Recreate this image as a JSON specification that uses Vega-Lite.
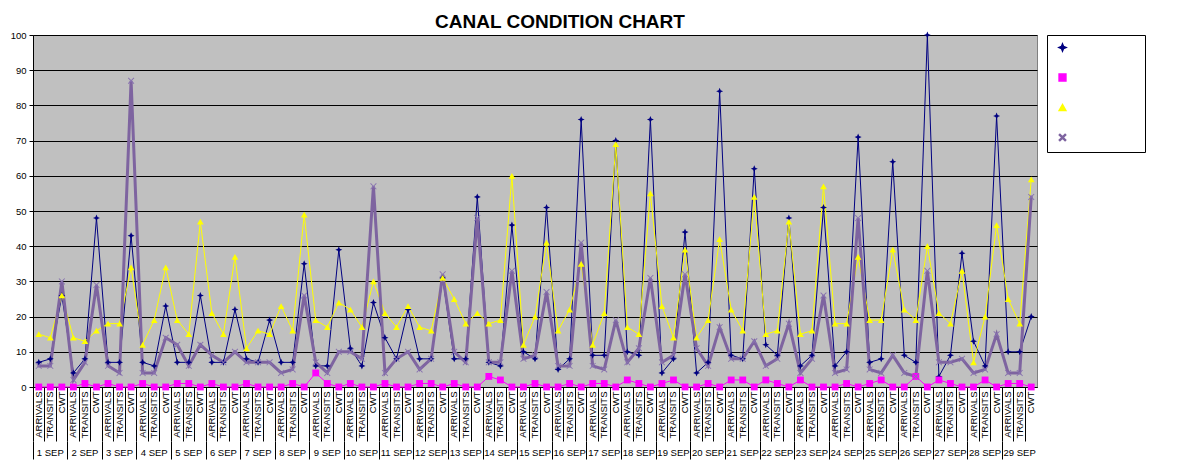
{
  "$schema": "https://vega.github.io/schema/vega-lite/v6.json",
  "width": 1004,
  "height": 352,
  "autosize": "none",
  "padding": {"left": 33, "top": 35, "right": 141, "bottom": 85},
  "background": "white",
  "title": {
    "text": "CANAL CONDITION CHART",
    "font": "Liberation Sans",
    "fontSize": 19,
    "fontWeight": "bold",
    "color": "black",
    "anchor": "middle",
    "dx": 25,
    "offset": -2
  },
  "data": {
    "values": [
      {"day": "1 SEP", "cat": "ARRIVALS", "NEOPANAMAX": 7, "PANAMAX PLUS": 0, "SUPER": 15, "REGULAR": 6},
      {"day": "1 SEP", "cat": "TRANSITS", "NEOPANAMAX": 8, "PANAMAX PLUS": 0, "SUPER": 14, "REGULAR": 6},
      {"day": "1 SEP", "cat": "CWT", "NEOPANAMAX": 26, "PANAMAX PLUS": 0, "SUPER": 26, "REGULAR": 30},
      {"day": "2 SEP", "cat": "ARRIVALS", "NEOPANAMAX": 4, "PANAMAX PLUS": 0, "SUPER": 14, "REGULAR": 2},
      {"day": "2 SEP", "cat": "TRANSITS", "NEOPANAMAX": 8, "PANAMAX PLUS": 1, "SUPER": 13, "REGULAR": 7},
      {"day": "2 SEP", "cat": "CWT", "NEOPANAMAX": 48, "PANAMAX PLUS": 0, "SUPER": 16, "REGULAR": 29},
      {"day": "3 SEP", "cat": "ARRIVALS", "NEOPANAMAX": 7, "PANAMAX PLUS": 1, "SUPER": 18, "REGULAR": 6},
      {"day": "3 SEP", "cat": "TRANSITS", "NEOPANAMAX": 7, "PANAMAX PLUS": 0, "SUPER": 18, "REGULAR": 4},
      {"day": "3 SEP", "cat": "CWT", "NEOPANAMAX": 43, "PANAMAX PLUS": 0, "SUPER": 34, "REGULAR": 87},
      {"day": "4 SEP", "cat": "ARRIVALS", "NEOPANAMAX": 7, "PANAMAX PLUS": 1, "SUPER": 12, "REGULAR": 4},
      {"day": "4 SEP", "cat": "TRANSITS", "NEOPANAMAX": 6, "PANAMAX PLUS": 0, "SUPER": 19, "REGULAR": 4},
      {"day": "4 SEP", "cat": "CWT", "NEOPANAMAX": 23, "PANAMAX PLUS": 0, "SUPER": 34, "REGULAR": 14},
      {"day": "5 SEP", "cat": "ARRIVALS", "NEOPANAMAX": 7, "PANAMAX PLUS": 1, "SUPER": 19, "REGULAR": 12},
      {"day": "5 SEP", "cat": "TRANSITS", "NEOPANAMAX": 7, "PANAMAX PLUS": 1, "SUPER": 15, "REGULAR": 6},
      {"day": "5 SEP", "cat": "CWT", "NEOPANAMAX": 26, "PANAMAX PLUS": 0, "SUPER": 47, "REGULAR": 12},
      {"day": "6 SEP", "cat": "ARRIVALS", "NEOPANAMAX": 7, "PANAMAX PLUS": 1, "SUPER": 21, "REGULAR": 9},
      {"day": "6 SEP", "cat": "TRANSITS", "NEOPANAMAX": 7, "PANAMAX PLUS": 0, "SUPER": 15, "REGULAR": 7},
      {"day": "6 SEP", "cat": "CWT", "NEOPANAMAX": 22, "PANAMAX PLUS": 0, "SUPER": 37, "REGULAR": 10},
      {"day": "7 SEP", "cat": "ARRIVALS", "NEOPANAMAX": 8, "PANAMAX PLUS": 1, "SUPER": 11, "REGULAR": 7},
      {"day": "7 SEP", "cat": "TRANSITS", "NEOPANAMAX": 7, "PANAMAX PLUS": 0, "SUPER": 16, "REGULAR": 7},
      {"day": "7 SEP", "cat": "CWT", "NEOPANAMAX": 19, "PANAMAX PLUS": 0, "SUPER": 15, "REGULAR": 7},
      {"day": "8 SEP", "cat": "ARRIVALS", "NEOPANAMAX": 7, "PANAMAX PLUS": 0, "SUPER": 23, "REGULAR": 4},
      {"day": "8 SEP", "cat": "TRANSITS", "NEOPANAMAX": 7, "PANAMAX PLUS": 1, "SUPER": 16, "REGULAR": 5},
      {"day": "8 SEP", "cat": "CWT", "NEOPANAMAX": 35, "PANAMAX PLUS": 0, "SUPER": 49, "REGULAR": 26},
      {"day": "9 SEP", "cat": "ARRIVALS", "NEOPANAMAX": 6, "PANAMAX PLUS": 4, "SUPER": 19, "REGULAR": 7},
      {"day": "9 SEP", "cat": "TRANSITS", "NEOPANAMAX": 6, "PANAMAX PLUS": 1, "SUPER": 17, "REGULAR": 4},
      {"day": "9 SEP", "cat": "CWT", "NEOPANAMAX": 39, "PANAMAX PLUS": 0, "SUPER": 24, "REGULAR": 10},
      {"day": "10 SEP", "cat": "ARRIVALS", "NEOPANAMAX": 11, "PANAMAX PLUS": 1, "SUPER": 22, "REGULAR": 10},
      {"day": "10 SEP", "cat": "TRANSITS", "NEOPANAMAX": 6, "PANAMAX PLUS": 0, "SUPER": 17, "REGULAR": 8},
      {"day": "10 SEP", "cat": "CWT", "NEOPANAMAX": 24, "PANAMAX PLUS": 0, "SUPER": 30, "REGULAR": 57},
      {"day": "11 SEP", "cat": "ARRIVALS", "NEOPANAMAX": 14, "PANAMAX PLUS": 1, "SUPER": 21, "REGULAR": 4},
      {"day": "11 SEP", "cat": "TRANSITS", "NEOPANAMAX": 8, "PANAMAX PLUS": 0, "SUPER": 17, "REGULAR": 8},
      {"day": "11 SEP", "cat": "CWT", "NEOPANAMAX": 22, "PANAMAX PLUS": 0, "SUPER": 23, "REGULAR": 10},
      {"day": "12 SEP", "cat": "ARRIVALS", "NEOPANAMAX": 8, "PANAMAX PLUS": 1, "SUPER": 17, "REGULAR": 5},
      {"day": "12 SEP", "cat": "TRANSITS", "NEOPANAMAX": 8, "PANAMAX PLUS": 1, "SUPER": 16, "REGULAR": 8},
      {"day": "12 SEP", "cat": "CWT", "NEOPANAMAX": 31, "PANAMAX PLUS": 0, "SUPER": 31, "REGULAR": 32},
      {"day": "13 SEP", "cat": "ARRIVALS", "NEOPANAMAX": 8, "PANAMAX PLUS": 1, "SUPER": 25, "REGULAR": 10},
      {"day": "13 SEP", "cat": "TRANSITS", "NEOPANAMAX": 8, "PANAMAX PLUS": 0, "SUPER": 18, "REGULAR": 7},
      {"day": "13 SEP", "cat": "CWT", "NEOPANAMAX": 54, "PANAMAX PLUS": 0, "SUPER": 21, "REGULAR": 48},
      {"day": "14 SEP", "cat": "ARRIVALS", "NEOPANAMAX": 7, "PANAMAX PLUS": 3, "SUPER": 18, "REGULAR": 7},
      {"day": "14 SEP", "cat": "TRANSITS", "NEOPANAMAX": 6, "PANAMAX PLUS": 2, "SUPER": 19, "REGULAR": 7},
      {"day": "14 SEP", "cat": "CWT", "NEOPANAMAX": 46, "PANAMAX PLUS": 0, "SUPER": 60, "REGULAR": 33},
      {"day": "15 SEP", "cat": "ARRIVALS", "NEOPANAMAX": 10, "PANAMAX PLUS": 0, "SUPER": 12, "REGULAR": 8},
      {"day": "15 SEP", "cat": "TRANSITS", "NEOPANAMAX": 8, "PANAMAX PLUS": 1, "SUPER": 20, "REGULAR": 9},
      {"day": "15 SEP", "cat": "CWT", "NEOPANAMAX": 51, "PANAMAX PLUS": 0, "SUPER": 41, "REGULAR": 27},
      {"day": "16 SEP", "cat": "ARRIVALS", "NEOPANAMAX": 5, "PANAMAX PLUS": 0, "SUPER": 16, "REGULAR": 6},
      {"day": "16 SEP", "cat": "TRANSITS", "NEOPANAMAX": 8, "PANAMAX PLUS": 1, "SUPER": 22, "REGULAR": 6},
      {"day": "16 SEP", "cat": "CWT", "NEOPANAMAX": 76, "PANAMAX PLUS": 0, "SUPER": 35, "REGULAR": 41},
      {"day": "17 SEP", "cat": "ARRIVALS", "NEOPANAMAX": 9, "PANAMAX PLUS": 1, "SUPER": 12, "REGULAR": 6},
      {"day": "17 SEP", "cat": "TRANSITS", "NEOPANAMAX": 9, "PANAMAX PLUS": 1, "SUPER": 21, "REGULAR": 5},
      {"day": "17 SEP", "cat": "CWT", "NEOPANAMAX": 70, "PANAMAX PLUS": 0, "SUPER": 69, "REGULAR": 19},
      {"day": "18 SEP", "cat": "ARRIVALS", "NEOPANAMAX": 10, "PANAMAX PLUS": 2, "SUPER": 17, "REGULAR": 7},
      {"day": "18 SEP", "cat": "TRANSITS", "NEOPANAMAX": 9, "PANAMAX PLUS": 1, "SUPER": 15, "REGULAR": 11},
      {"day": "18 SEP", "cat": "CWT", "NEOPANAMAX": 76, "PANAMAX PLUS": 0, "SUPER": 55, "REGULAR": 31},
      {"day": "19 SEP", "cat": "ARRIVALS", "NEOPANAMAX": 4, "PANAMAX PLUS": 1, "SUPER": 23, "REGULAR": 7},
      {"day": "19 SEP", "cat": "TRANSITS", "NEOPANAMAX": 8, "PANAMAX PLUS": 2, "SUPER": 14, "REGULAR": 9},
      {"day": "19 SEP", "cat": "CWT", "NEOPANAMAX": 44, "PANAMAX PLUS": 0, "SUPER": 39, "REGULAR": 32},
      {"day": "20 SEP", "cat": "ARRIVALS", "NEOPANAMAX": 4, "PANAMAX PLUS": 0, "SUPER": 14, "REGULAR": 11},
      {"day": "20 SEP", "cat": "TRANSITS", "NEOPANAMAX": 7, "PANAMAX PLUS": 1, "SUPER": 19, "REGULAR": 6},
      {"day": "20 SEP", "cat": "CWT", "NEOPANAMAX": 84, "PANAMAX PLUS": 0, "SUPER": 42, "REGULAR": 17},
      {"day": "21 SEP", "cat": "ARRIVALS", "NEOPANAMAX": 9, "PANAMAX PLUS": 2, "SUPER": 22, "REGULAR": 8},
      {"day": "21 SEP", "cat": "TRANSITS", "NEOPANAMAX": 8, "PANAMAX PLUS": 2, "SUPER": 16, "REGULAR": 8},
      {"day": "21 SEP", "cat": "CWT", "NEOPANAMAX": 62, "PANAMAX PLUS": 0, "SUPER": 54, "REGULAR": 13},
      {"day": "22 SEP", "cat": "ARRIVALS", "NEOPANAMAX": 12, "PANAMAX PLUS": 2, "SUPER": 15, "REGULAR": 6},
      {"day": "22 SEP", "cat": "TRANSITS", "NEOPANAMAX": 9, "PANAMAX PLUS": 1, "SUPER": 16, "REGULAR": 8},
      {"day": "22 SEP", "cat": "CWT", "NEOPANAMAX": 48, "PANAMAX PLUS": 0, "SUPER": 47, "REGULAR": 18},
      {"day": "23 SEP", "cat": "ARRIVALS", "NEOPANAMAX": 6, "PANAMAX PLUS": 2, "SUPER": 15, "REGULAR": 4},
      {"day": "23 SEP", "cat": "TRANSITS", "NEOPANAMAX": 9, "PANAMAX PLUS": 0, "SUPER": 16, "REGULAR": 8},
      {"day": "23 SEP", "cat": "CWT", "NEOPANAMAX": 51, "PANAMAX PLUS": 0, "SUPER": 57, "REGULAR": 26},
      {"day": "24 SEP", "cat": "ARRIVALS", "NEOPANAMAX": 6, "PANAMAX PLUS": 0, "SUPER": 18, "REGULAR": 4},
      {"day": "24 SEP", "cat": "TRANSITS", "NEOPANAMAX": 10, "PANAMAX PLUS": 1, "SUPER": 18, "REGULAR": 5},
      {"day": "24 SEP", "cat": "CWT", "NEOPANAMAX": 71, "PANAMAX PLUS": 0, "SUPER": 37, "REGULAR": 48},
      {"day": "25 SEP", "cat": "ARRIVALS", "NEOPANAMAX": 7, "PANAMAX PLUS": 1, "SUPER": 19, "REGULAR": 5},
      {"day": "25 SEP", "cat": "TRANSITS", "NEOPANAMAX": 8, "PANAMAX PLUS": 2, "SUPER": 19, "REGULAR": 4},
      {"day": "25 SEP", "cat": "CWT", "NEOPANAMAX": 64, "PANAMAX PLUS": 0, "SUPER": 39, "REGULAR": 9},
      {"day": "26 SEP", "cat": "ARRIVALS", "NEOPANAMAX": 9, "PANAMAX PLUS": 0, "SUPER": 22, "REGULAR": 4},
      {"day": "26 SEP", "cat": "TRANSITS", "NEOPANAMAX": 7, "PANAMAX PLUS": 3, "SUPER": 19, "REGULAR": 3},
      {"day": "26 SEP", "cat": "CWT", "NEOPANAMAX": 100, "PANAMAX PLUS": 0, "SUPER": 40, "REGULAR": 33},
      {"day": "27 SEP", "cat": "ARRIVALS", "NEOPANAMAX": 3, "PANAMAX PLUS": 2, "SUPER": 21, "REGULAR": 7},
      {"day": "27 SEP", "cat": "TRANSITS", "NEOPANAMAX": 9, "PANAMAX PLUS": 1, "SUPER": 18, "REGULAR": 7},
      {"day": "27 SEP", "cat": "CWT", "NEOPANAMAX": 38, "PANAMAX PLUS": 0, "SUPER": 33, "REGULAR": 8},
      {"day": "28 SEP", "cat": "ARRIVALS", "NEOPANAMAX": 13, "PANAMAX PLUS": 0, "SUPER": 7, "REGULAR": 4},
      {"day": "28 SEP", "cat": "TRANSITS", "NEOPANAMAX": 6, "PANAMAX PLUS": 2, "SUPER": 20, "REGULAR": 5},
      {"day": "28 SEP", "cat": "CWT", "NEOPANAMAX": 77, "PANAMAX PLUS": 0, "SUPER": 46, "REGULAR": 15},
      {"day": "29 SEP", "cat": "ARRIVALS", "NEOPANAMAX": 10, "PANAMAX PLUS": 1, "SUPER": 25, "REGULAR": 4},
      {"day": "29 SEP", "cat": "TRANSITS", "NEOPANAMAX": 10, "PANAMAX PLUS": 1, "SUPER": 18, "REGULAR": 4},
      {"day": "29 SEP", "cat": "CWT", "NEOPANAMAX": 20, "PANAMAX PLUS": 0, "SUPER": 59, "REGULAR": 54}
    ]
  },
  "transform": [
    {"calculate": "datum.day + '|' + datum.cat", "as": "slot"},
    {"fold": ["NEOPANAMAX", "PANAMAX PLUS", "SUPER", "REGULAR"], "as": ["series", "value"]}
  ],
  "layer": [
    {
      "mark": {"type": "line", "strokeCap": "round"},
      "encoding": {
        "x": {
          "field": "slot",
          "type": "nominal",
          "sort": null,
          "bandPosition": 0.5,
          "scale": {"type": "band", "paddingInner": 0, "paddingOuter": 0},
          "axis": {
            "orient": "bottom",
            "title": null,
            "grid": false,
            "bandPosition": 0,
            "labelAngle": 270,
            "labelAlign": "right",
            "labelBaseline": "middle",
            "labelExpr": "split(datum.label, '|')[1]",
            "labelFontSize": 9.5,
            "labelColor": "black",
            "labelPadding": -50,
            "labelOverlap": false,
            "labelFlush": false,
            "tickColor": "black",
            "tickSize": 54,
            "domainColor": "black"
          }
        },
        "y": {
          "field": "value",
          "type": "quantitative",
          "scale": {"domain": [0, 100], "nice": false},
          "axis": {
            "title": null,
            "values": [0, 10, 20, 30, 40, 50, 60, 70, 80, 90, 100],
            "grid": true,
            "gridColor": "black",
            "gridWidth": 1,
            "tickColor": "black",
            "tickSize": 4,
            "domainColor": "black",
            "labelFontSize": 9.5,
            "labelColor": "black",
            "labelPadding": 3
          }
        },
        "stroke": {
          "field": "series",
          "type": "nominal",
          "scale": {
            "domain": ["NEOPANAMAX", "PANAMAX PLUS", "SUPER", "REGULAR"],
            "range": ["#000080", "#FF00FF", "#FFFF00", "#7E64A0"]
          },
          "legend": {
            "title": null,
            "orient": "none",
            "legendX": 1014,
            "legendY": 0,
            "direction": "vertical",
            "strokeColor": "black",
            "padding": 8,
            "symbolType": "stroke",
            "symbolSize": 400,
            "symbolStrokeWidth": 1.5,
            "symbolOffset": 3,
            "labelOffset": 0,
            "rowPadding": 17,
            "labelFontSize": 9,
            "labelColor": "black",
            "labelLimit": 200
          }
        },
        "strokeWidth": {
          "condition": {"test": "datum.series === 'REGULAR'", "value": 3},
          "value": 1
        },
        "order": {"value": null}
      }
    },
    {
      "transform": [{"calculate": "datum.series", "as": "mk"}],
      "mark": {"type": "point", "filled": true, "opacity": 1},
      "encoding": {
        "x": {
          "field": "slot",
          "type": "nominal",
          "sort": null,
          "bandPosition": 0.5,
          "scale": {"type": "band", "paddingInner": 0, "paddingOuter": 0},
          "axis": {
            "orient": "bottom",
            "offset": 54,
            "title": null,
            "grid": false,
            "domain": false,
            "bandPosition": 0,
            "tickSize": 18,
            "tickColor": "black",
            "tickOpacity": {"condition": {"test": "indexof(datum.value, 'ARRIVALS') >= 0", "value": 1}, "value": 0},
            "labelAngle": 0,
            "labelAlign": "center",
            "labelBaseline": "top",
            "labelExpr": "indexof(datum.value, 'TRANSITS') >= 0 ? split(datum.value, '|')[0] : ''",
            "labelFontSize": 9.5,
            "labelColor": "black",
            "labelPadding": -12,
            "labelOverlap": false,
            "labelFlush": false
          }
        },
        "y": {
          "field": "value",
          "type": "quantitative",
          "scale": {"domain": [0, 100], "nice": false},
          "axis": {
            "title": null,
            "values": [0, 10, 20, 30, 40, 50, 60, 70, 80, 90, 100],
            "grid": true,
            "gridColor": "black",
            "gridWidth": 1,
            "tickColor": "black",
            "tickSize": 4,
            "domainColor": "black",
            "labelFontSize": 9.5,
            "labelColor": "black",
            "labelPadding": 3
          }
        },
        "fill": {
          "field": "mk",
          "type": "nominal",
          "scale": {
            "domain": ["NEOPANAMAX", "PANAMAX PLUS", "SUPER", "REGULAR"],
            "range": ["#000080", "#FF00FF", "#FFFF00", "#8872B0"]
          },
          "legend": {
            "title": null,
            "orient": "none",
            "legendX": 1014,
            "legendY": 0,
            "direction": "vertical",
            "padding": 8,
            "symbolOffset": 9,
            "labelOffset": 0,
            "rowPadding": 17,
            "labelFontSize": 9,
            "labelOpacity": 0,
            "labelLimit": 200
          }
        },
        "shape": {
          "field": "mk",
          "type": "nominal",
          "scale": {
            "domain": ["NEOPANAMAX", "PANAMAX PLUS", "SUPER", "REGULAR"],
            "range": [
              "M0,-1L0.3,-0.3L1,0L0.3,0.3L0,1L-0.3,0.3L-1,0L-0.3,-0.3Z",
              "square",
              "triangle-up",
              "M-1,-0.8L-0.8,-1L0,-0.2L0.8,-1L1,-0.8L0.2,0L1,0.8L0.8,1L0,0.2L-0.8,1L-1,0.8L-0.2,0Z"
            ]
          }
        },
        "size": {
          "field": "mk",
          "type": "nominal",
          "scale": {
            "domain": ["NEOPANAMAX", "PANAMAX PLUS", "SUPER", "REGULAR"],
            "range": [49, 42, 50, 81]
          }
        }
      }
    }
  ],
  "resolve": {"axis": {"x": "independent"}},
  "config": {
    "font": "Liberation Sans",
    "view": {"fill": "#C0C0C0", "stroke": "#808080"}
  }
}
